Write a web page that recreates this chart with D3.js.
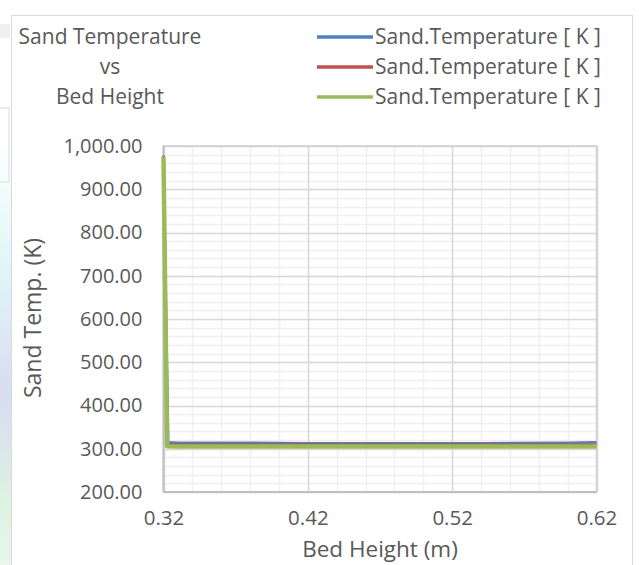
<!DOCTYPE html>
<html>
<head>
<meta charset="utf-8">
<script src="https://cdn.jsdelivr.net/npm/d3@7"></script>
<style>
  html, body { margin: 0; padding: 0; background: #fff; }
  svg { display: block; }
  text { font-family: "Open Sans", "DejaVu Sans", sans-serif; fill: #595959; }
</style>
</head>
<body>
<svg id="chart" width="639" height="565"></svg>
<script>
// Bed height (m) sampled along the bed, per run
const heightsA = [0.3200, 0.3233, 0.3300, 0.3600, 0.4200, 0.4800, 0.5400, 0.6000, 0.6200];
const heightsB = [0.3200, 0.3230, 0.3300, 0.3600, 0.4200, 0.4800, 0.5400, 0.6000, 0.6200];
const heightsC = [0.3200, 0.3225, 0.3300, 0.3600, 0.4200, 0.4800, 0.5400, 0.6000, 0.6200];
// Sand temperature (K) for each run
const tempBlue  = [978, 315, 314, 314, 313, 313, 313, 314, 315];
const tempRed   = [976, 311, 310, 310, 310, 310, 310, 310, 310];
const tempGreen = [975, 306, 305, 305, 305, 305, 305, 305, 305];

const seriesNames = ["Sand.Temperature [ K ]", "Sand.Temperature [ K ]", "Sand.Temperature [ K ]"];
const seriesColors = ["#4F81BD", "#C0504D", "#9BBB59"];
const seriesWidths = [2.5, 2.5, 4.5];

const xTicks = [0.32, 0.42, 0.52, 0.62];
const yTicks = [200, 300, 400, 500, 600, 700, 800, 900, 1000];
const titleLines = ["Sand Temperature", "vs", "Bed Height"];
const xTitle = "Bed Height (m)";
const yTitle = "Sand Temp. (K)";

const svg = d3.select("#chart");

// faint backdrop showing through on the left edge
const defs = svg.append("defs");
const grad = defs.append("linearGradient").attr("id", "haze").attr("x1", 0).attr("y1", 0).attr("x2", 0).attr("y2", 1);
grad.append("stop").attr("offset", "0%").attr("stop-color", "#ffffff");
grad.append("stop").attr("offset", "30%").attr("stop-color", "#dff6f7");
grad.append("stop").attr("offset", "60%").attr("stop-color", "#d9dcf2");
grad.append("stop").attr("offset", "85%").attr("stop-color", "#dcf3e2");
grad.append("stop").attr("offset", "100%").attr("stop-color", "#e8f6ee");
svg.append("rect").attr("x", 0).attr("y", 140).attr("width", 11).attr("height", 425).attr("fill", "url(#haze)");
svg.append("rect").attr("x", 0).attr("y", 24).attr("width", 10).attr("height", 14).attr("fill", "#e6e6e6").attr("opacity", 0.6);
svg.append("path").attr("d", "M0,108 L9,108 L9,182 L0,182").attr("fill", "none").attr("stroke", "#e6e6e6").attr("stroke-width", 1.5);

// chart frame
svg.append("rect").attr("x", 11.5).attr("y", 15.5).attr("width", 621).attr("height", 600)
  .attr("fill", "#fff").attr("stroke", "#d9d9d9").attr("stroke-width", 1);

const plot = { left: 163.5, right: 596.5, top: 146, bottom: 492 };
const x = d3.scaleLinear().domain([0.32, 0.62]).range([plot.left, plot.right]);
const y = d3.scaleLinear().domain([200, 1000]).range([plot.bottom, plot.top]);

// minor gridlines
const g = svg.append("g");
g.selectAll("line.vminor").data(d3.range(0.32, 0.6201, 0.02)).enter().append("line")
  .attr("x1", d => Math.round(x(d)) + 0.5).attr("x2", d => Math.round(x(d)) + 0.5)
  .attr("y1", plot.top).attr("y2", plot.bottom)
  .attr("stroke", "#efefef").attr("stroke-width", 1.5);
g.selectAll("line.hminor").data(d3.range(200, 1000.1, 20)).enter().append("line")
  .attr("y1", d => Math.round(y(d)) + 0.5).attr("y2", d => Math.round(y(d)) + 0.5)
  .attr("x1", plot.left).attr("x2", plot.right)
  .attr("stroke", "#efefef").attr("stroke-width", 1.5);
// major gridlines
g.selectAll("line.vmajor").data(xTicks).enter().append("line")
  .attr("x1", d => Math.round(x(d)) + 0.5).attr("x2", d => Math.round(x(d)) + 0.5)
  .attr("y1", plot.top).attr("y2", plot.bottom)
  .attr("stroke", "#d9d9d9").attr("stroke-width", 1.5);
g.selectAll("line.hmajor").data(yTicks).enter().append("line")
  .attr("y1", d => Math.round(y(d)) + 0.5).attr("y2", d => Math.round(y(d)) + 0.5)
  .attr("x1", plot.left).attr("x2", plot.right)
  .attr("stroke", "#d9d9d9").attr("stroke-width", 1.5);
// plot area outline
svg.append("rect").attr("x", plot.left).attr("y", plot.top)
  .attr("width", plot.right - plot.left).attr("height", plot.bottom - plot.top)
  .attr("fill", "none").attr("stroke", "#d0d0d0").attr("stroke-width", 1.5);
svg.append("line").attr("x1", plot.left).attr("x2", plot.left).attr("y1", plot.top).attr("y2", plot.bottom)
  .attr("stroke", "#bfbfbf").attr("stroke-width", 2);
svg.append("line").attr("x1", plot.left).attr("x2", plot.right).attr("y1", plot.bottom).attr("y2", plot.bottom)
  .attr("stroke", "#bfbfbf").attr("stroke-width", 2);

// axes (labels only)
const fmtY = d3.format(",.2f");
const yAxis = d3.axisLeft(y).tickValues(yTicks).tickFormat(fmtY).tickSize(0).tickPadding(21);
const yG = svg.append("g").attr("transform", `translate(${plot.left},0)`).call(yAxis);
yG.select(".domain").remove();
yG.selectAll("text").style("font-family", "'Open Sans', sans-serif").style("font-size", "20px").attr("fill", "#595959");

const xAxis = d3.axisBottom(x).tickValues(xTicks).tickFormat(d3.format(".2f")).tickSize(0).tickPadding(18);
const xG = svg.append("g").attr("transform", `translate(0,${plot.bottom})`).call(xAxis);
xG.select(".domain").remove();
xG.selectAll("text").style("font-family", "'Open Sans', sans-serif").style("font-size", "20.5px").attr("fill", "#595959");

// series
const allSeries = [
  { h: heightsA, t: tempBlue },
  { h: heightsB, t: tempRed },
  { h: heightsC, t: tempGreen }
];
const line = d3.line().x(d => x(d[0])).y(d => y(d[1]));
allSeries.forEach((s, i) => {
  const pts = s.h.map((h, k) => [h, s.t[k]]);
  svg.append("path").datum(pts).attr("d", line)
    .attr("fill", "none").attr("stroke", seriesColors[i])
    .attr("stroke-width", seriesWidths[i]).attr("stroke-linejoin", "round");
});

// axis titles
svg.append("text").attr("x", 380).attr("y", 557).attr("text-anchor", "middle")
  .style("font-size", "22.5px").text(xTitle);
svg.append("text").attr("transform", "translate(41,318) rotate(-90)").attr("text-anchor", "middle")
  .style("font-size", "23px").text(yTitle);

// chart title
titleLines.forEach((t, i) => {
  svg.append("text").attr("x", 110).attr("y", 44 + i * 30).attr("text-anchor", "middle")
    .style("font-size", "21px").text(t);
});

// legend
seriesNames.forEach((n, i) => {
  const ly = 37 + i * 30;
  svg.append("line").attr("x1", 317).attr("x2", 373).attr("y1", ly).attr("y2", ly)
    .attr("stroke", seriesColors[i]).attr("stroke-width", 3.5);
  svg.append("text").attr("x", 375).attr("y", ly + 7).style("font-size", "21px").text(n);
});
</script>
</body>
</html>
